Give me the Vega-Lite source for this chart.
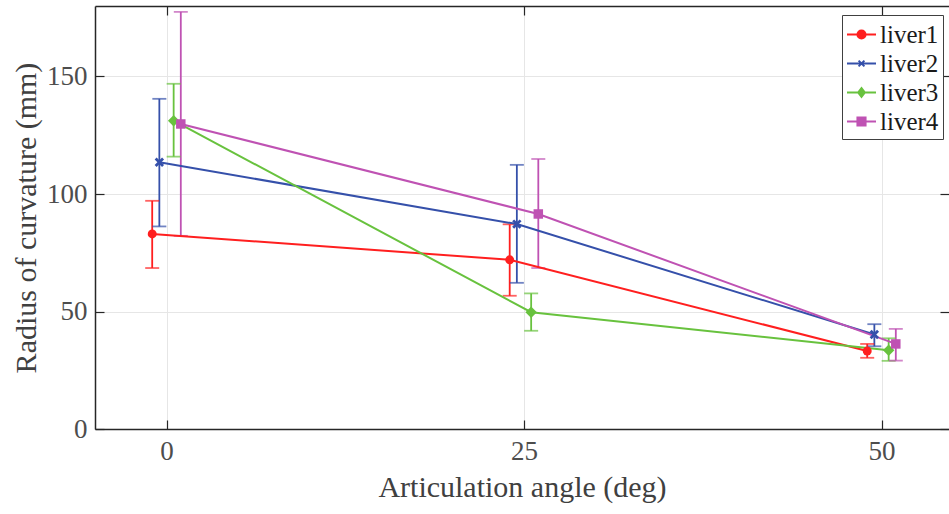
{
  "$schema": "https://vega.github.io/schema/vega-lite/v6.json",
  "autosize": "none",
  "width": 854,
  "height": 423,
  "padding": {"left": 95, "top": 6, "right": 0, "bottom": 85},
  "background": "white",
  "config": {
    "view": {"stroke": null},
    "font": "Liberation Serif",
    "axis": {"labelFont": "Liberation Serif", "titleFont": "Liberation Serif", "titleFontWeight": "normal"},
    "legend": {
      "orient": "none", "legendX": 747, "legendY": 9,
      "strokeColor": "#404040", "fillColor": "white", "padding": 4,
      "symbolSize": 841, "symbolStrokeWidth": 2,
      "labelFont": "Liberation Serif", "labelFontSize": 25, "labelColor": "#1a1a1a",
      "labelOffset": 3, "rowPadding": 0
    }
  },
  "data": {
    "values": [
      {"series": "liver1", "angle": -1, "r": 83.0, "lo": 68.5, "hi": 97.1},
      {"series": "liver1", "angle": 24, "r": 72.0, "lo": 56.7, "hi": 87.1},
      {"series": "liver1", "angle": 49, "r": 33.2, "lo": 30.3, "hi": 36.2},
      {"series": "liver2", "angle": -0.5, "r": 113.5, "lo": 86.2, "hi": 140.5},
      {"series": "liver2", "angle": 24.5, "r": 87.2, "lo": 62.2, "hi": 112.4},
      {"series": "liver2", "angle": 49.5, "r": 40.2, "lo": 35.2, "hi": 44.6},
      {"series": "liver3", "angle": 0.5, "r": 131.2, "lo": 115.9, "hi": 146.9},
      {"series": "liver3", "angle": 25.5, "r": 49.7, "lo": 41.8, "hi": 57.7},
      {"series": "liver3", "angle": 50.5, "r": 33.5, "lo": 29.0, "hi": 38.6},
      {"series": "liver4", "angle": 1, "r": 129.8, "lo": 82.2, "hi": 177.5},
      {"series": "liver4", "angle": 26, "r": 91.5, "lo": 68.5, "hi": 114.9},
      {"series": "liver4", "angle": 51, "r": 36.2, "lo": 29.1, "hi": 42.6}
    ]
  },
  "resolve": {"axis": {"x": "independent", "y": "independent"}},
  "layer": [
    {
      "mark": {"type": "rule", "strokeWidth": 1.8},
      "encoding": {
        "x": {
          "field": "angle", "type": "quantitative",
          "scale": {"domain": [-5, 54.72], "nice": false, "zero": false},
          "axis": {
            "orient": "bottom", "values": [0, 25, 50], "title": "Articulation angle (deg)",
            "grid": true, "gridColor": "#e6e6e6", "gridWidth": 1,
            "domainColor": "#262626", "domainWidth": 1.5,
            "tickColor": "#262626", "tickSize": -9, "tickWidth": 1.2,
            "labelFontSize": 27, "labelColor": "#4d4d4d", "labelPadding": 18,
            "titleFontSize": 30, "titleColor": "#404040", "titlePadding": 8
          }
        },
        "y": {
          "field": "lo", "type": "quantitative",
          "scale": {"domain": [0, 180], "nice": false, "zero": false},
          "axis": {
            "orient": "left", "values": [0, 50, 100, 150], "title": "Radius of curvature (mm)",
            "grid": true, "gridColor": "#e6e6e6", "gridWidth": 1,
            "domainColor": "#262626", "domainWidth": 1.5,
            "tickColor": "#262626", "tickSize": -9, "tickWidth": 1.2,
            "labelFontSize": 27, "labelColor": "#4d4d4d", "labelPadding": 17,
            "titleFontSize": 30, "titleColor": "#404040", "titlePadding": 5
          }
        },
        "y2": {"field": "hi"},
        "color": {
          "field": "series", "type": "nominal",
          "scale": {"domain": ["liver1", "liver2", "liver3", "liver4"], "range": ["#ff1f1f", "#3550aa", "#68c23e", "#bf52b3"]},
          "legend": {
            "title": null, "orient": "none", "legendX": 747, "legendY": 9,
            "strokeColor": "#404040", "fillColor": "white", "padding": 4,
            "symbolSize": 841, "symbolStrokeWidth": 2,
            "labelFont": "Liberation Serif", "labelFontSize": 25, "labelColor": "#1a1a1a",
            "labelOffset": 3, "rowPadding": 0,
            "encoding": {
              "symbols": {
                "shape": {"value": {"expr": "datum.value === 'liver1' ? 'M-1,0L1,0M0.28,0A0.28,0.28,0,1,1,-0.28,0A0.28,0.28,0,1,1,0.28,0Z' : datum.value === 'liver2' ? 'M-1,0L1,0M-0.2,-0.2L0.2,0.2M-0.2,0.2L0.2,-0.2' : datum.value === 'liver3' ? 'M-1,0L1,0M0,-0.3L0.23,0L0,0.3L-0.23,0Z' : 'M-1,0L1,0M-0.28,-0.28L0.28,-0.28L0.28,0.28L-0.28,0.28Z'"}},
                "fill": {"value": {"expr": "scale('color', datum.value)"}},
                "stroke": {"value": {"expr": "scale('color', datum.value)"}},
                "strokeWidth": {"value": 2},
                "size": {"value": 841},
                "opacity": {"value": 1}
              }
            }
          }
        }
      }
    },
    {
      "transform": [{"fold": ["lo", "hi"], "as": ["end", "val"]}],
      "mark": {"type": "tick", "orient": "horizontal", "size": 14, "thickness": 1.8},
      "encoding": {
        "x": {
          "field": "angle", "type": "quantitative",
          "axis": {"orient": "top", "values": [0, 25, 50], "labels": false, "title": null, "grid": false,
            "domainColor": "#262626", "domainWidth": 1.5, "tickColor": "#262626", "tickSize": -9, "tickWidth": 1.2}
        },
        "y": {
          "field": "val", "type": "quantitative",
          "axis": {"orient": "right", "values": [0, 50, 100, 150], "labels": false, "title": null, "grid": false,
            "domain": false, "tickColor": "#262626", "tickSize": -9, "tickWidth": 1.2}
        },
        "color": {"field": "series", "type": "nominal"}
      }
    },
    {
      "mark": {"type": "line", "strokeWidth": 2},
      "encoding": {
        "x": {"field": "angle", "type": "quantitative", "axis": null},
        "y": {"field": "r", "type": "quantitative", "axis": null},
        "color": {"field": "series", "type": "nominal"}
      }
    },
    {
      "transform": [{"filter": "datum.series === 'liver1'"}],
      "mark": {"type": "point", "shape": "circle", "filled": true, "size": 80, "opacity": 1},
      "encoding": {
        "x": {"field": "angle", "type": "quantitative", "axis": null},
        "y": {"field": "r", "type": "quantitative", "axis": null},
        "color": {"field": "series", "type": "nominal"}
      }
    },
    {
      "transform": [{"filter": "datum.series === 'liver2'"}],
      "mark": {"type": "point", "shape": "M-1,-1L1,1M-1,1L1,-1", "filled": false, "size": 55, "strokeWidth": 2.8, "opacity": 1},
      "encoding": {
        "x": {"field": "angle", "type": "quantitative", "axis": null},
        "y": {"field": "r", "type": "quantitative", "axis": null},
        "color": {"field": "series", "type": "nominal"}
      }
    },
    {
      "transform": [{"filter": "datum.series === 'liver3'"}],
      "mark": {"type": "point", "shape": "diamond", "filled": true, "size": 130, "opacity": 1},
      "encoding": {
        "x": {"field": "angle", "type": "quantitative", "axis": null},
        "y": {"field": "r", "type": "quantitative", "axis": null},
        "color": {"field": "series", "type": "nominal"}
      }
    },
    {
      "transform": [{"filter": "datum.series === 'liver4'"}],
      "mark": {"type": "point", "shape": "square", "filled": true, "size": 90, "opacity": 1},
      "encoding": {
        "x": {"field": "angle", "type": "quantitative", "axis": null},
        "y": {"field": "r", "type": "quantitative", "axis": null},
        "color": {"field": "series", "type": "nominal"}
      }
    }
  ]
}
